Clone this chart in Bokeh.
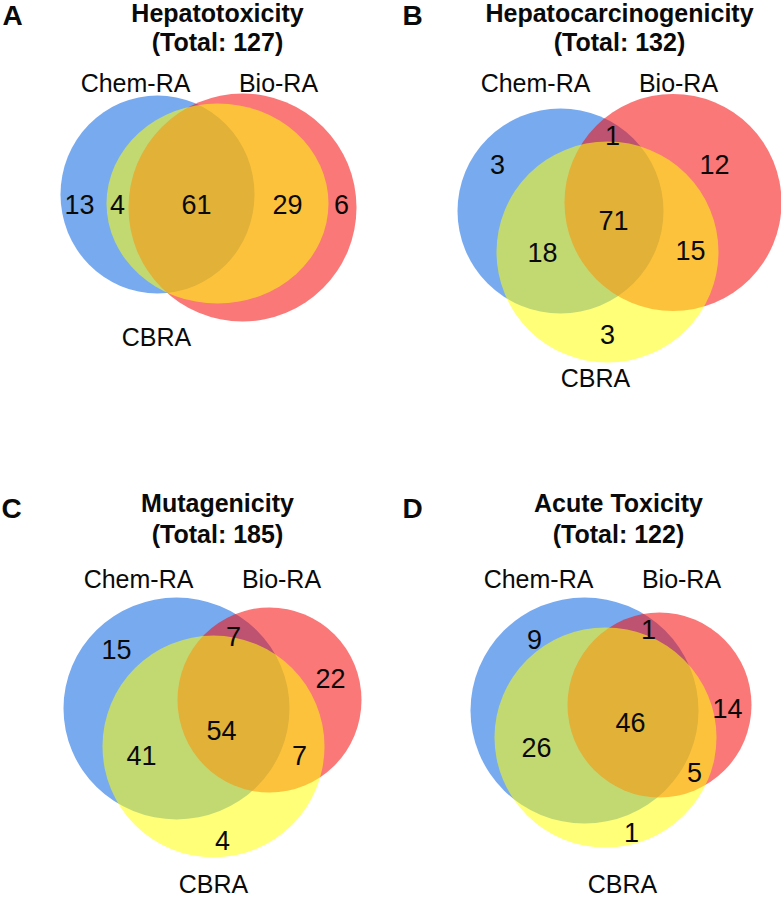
from bokeh.plotting import figure
from bokeh.models import Range1d
from bokeh.embed import file_html
from bokeh.resources import INLINE
from bokeh.core.properties import value

# ---------------- data ----------------
panel_letters = ["A", "B", "C", "D"]
titles = ["Hepatotoxicity", "Hepatocarcinogenicity", "Mutagenicity", "Acute Toxicity"]
totals = [127, 132, 185, 122]
set_names = ["Chem-RA", "Bio-RA", "CBRA"]

# region counts per panel (None = region not shown)
chem_only = [13, 3, 15, 9]
chem_bio = [None, 1, 7, 1]
bio_only = [6, 12, 22, 14]
all_three = [61, 71, 54, 46]
chem_cbra = [4, 18, 41, 26]
bio_cbra = [29, 15, 7, 5]
cbra_only = [None, 3, 4, 1]

region_counts = {
    "chem_only": chem_only, "chem_bio": chem_bio, "bio_only": bio_only,
    "all_three": all_three, "chem_cbra": chem_cbra, "bio_cbra": bio_cbra,
    "cbra_only": cbra_only,
}

# ---------------- layout (pixel positions of the picture) ----------------
LAYOUT = [
    dict(letter=(12, 15), title_x=217, title_y=(12.5, 41),
         set_lbl=[(135, 82.5), (278, 82.5), (156, 336)],
         circles=[(157, 194, 194, 198), (242, 207, 228, 228), (217, 203, 222, 200)],
         pos={"chem_only": (79, 204), "chem_cbra": (117, 204), "all_three": (196, 204),
              "bio_cbra": (287, 204), "bio_only": (341, 204)}),
    dict(letter=(412, 15), title_x=619, title_y=(12.5, 41),
         set_lbl=[(535, 82.5), (678, 82.5), (595, 377)],
         circles=[(560, 210.5, 206, 205), (672.5, 202, 217, 217), (607, 251.5, 222, 221)],
         pos={"chem_only": (497, 164), "chem_bio": (612, 135), "bio_only": (714, 164),
              "all_three": (613, 220), "chem_cbra": (542, 252), "bio_cbra": (690, 250),
              "cbra_only": (607, 334)}),
    dict(letter=(11, 508), title_x=217, title_y=(502, 533),
         set_lbl=[(138, 578), (281, 578), (213, 883)],
         circles=[(176, 708, 226, 222), (269, 699.5, 184, 185), (213, 746, 222, 222)],
         pos={"chem_only": (116, 649), "chem_bio": (233, 636), "bio_only": (330, 678),
              "all_three": (221, 730), "chem_cbra": (141, 755), "bio_cbra": (299, 755),
              "cbra_only": (222, 840)}),
    dict(letter=(412, 508), title_x=618, title_y=(502, 533),
         set_lbl=[(538, 578), (681, 578), (622, 883)],
         circles=[(584, 710, 228, 226), (659, 704.5, 184, 185), (605, 737, 222, 220)],
         pos={"chem_only": (534, 639), "chem_bio": (648, 629), "bio_only": (727, 708),
              "all_three": (630, 722), "chem_cbra": (536, 747), "bio_cbra": (694, 772),
              "cbra_only": (631, 832)}),
]

SET_COLORS = ["#0a64e4", "#f50a0a", "#ffff0a"]
SET_ALPHA = 0.55
FONT = "Liberation Sans"

p = figure(width=781, height=897, x_range=Range1d(0, 781), y_range=Range1d(897, 0),
           output_backend="svg", toolbar_location=None,
           x_axis_location=None, y_axis_location=None, min_border=0,
           outline_line_color=None, background_fill_color="white")
p.grid.visible = False

# circles: all Chem-RA first, then Bio-RA, then CBRA (for blending order)
for k in range(3):
    xs = [L["circles"][k][0] for L in LAYOUT]
    ys = [L["circles"][k][1] for L in LAYOUT]
    ws = [L["circles"][k][2] for L in LAYOUT]
    hs = [L["circles"][k][3] for L in LAYOUT]
    p.ellipse(x=xs, y=ys, width=ws, height=hs, fill_color=SET_COLORS[k],
              fill_alpha=SET_ALPHA, line_color=None)

# region counts
nx, ny, nt = [], [], []
for i, L in enumerate(LAYOUT):
    for key, vals in region_counts.items():
        v = vals[i]
        if v is None:
            continue
        x, y = L["pos"][key]
        nx.append(x); ny.append(y); nt.append(str(v))
p.text(x=nx, y=ny, text=nt, text_font=value(FONT), text_font_size="27px",
       text_align="center", text_baseline="middle", text_color="#0a0a0a")

# set labels
lx, ly, lt = [], [], []
for L in LAYOUT:
    for k in range(3):
        x, y = L["set_lbl"][k]
        lx.append(x); ly.append(y); lt.append(set_names[k])
p.text(x=lx, y=ly, text=lt, text_font=value(FONT), text_font_size="25px",
       text_align="center", text_baseline="middle", text_color="#0a0a0a")

# titles
tx, ty, tt = [], [], []
for i, L in enumerate(LAYOUT):
    tx += [L["title_x"], L["title_x"]]
    ty += [L["title_y"][0], L["title_y"][1]]
    tt += [titles[i], "(Total: %d)" % totals[i]]
p.text(x=tx, y=ty, text=tt, text_font=value(FONT), text_font_size="25px",
       text_font_style="bold", text_align="center", text_baseline="middle",
       text_color="#0a0a0a")

# panel letters
p.text(x=[L["letter"][0] for L in LAYOUT], y=[L["letter"][1] for L in LAYOUT],
       text=panel_letters, text_font=value(FONT), text_font_size="28px",
       text_font_style="bold", text_align="center", text_baseline="middle",
       text_color="#0a0a0a")

open("out.html", "w").write(file_html(p, INLINE))
